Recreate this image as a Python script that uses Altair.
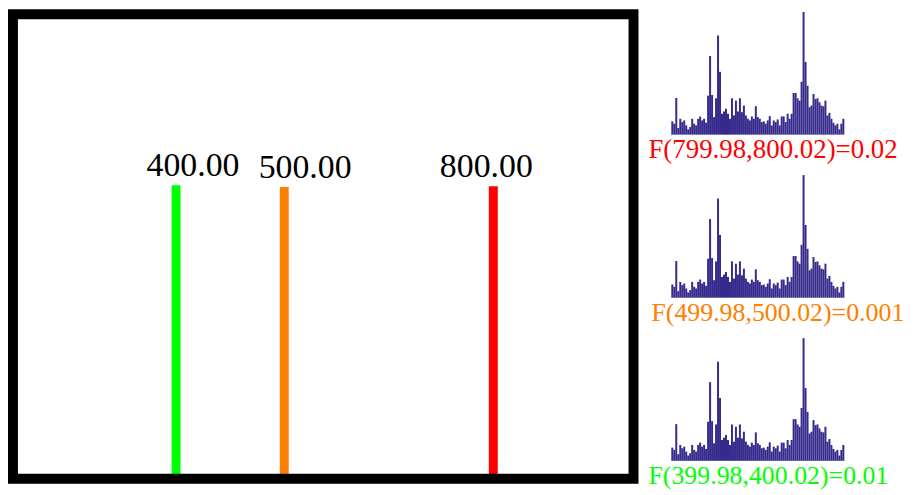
import altair as alt
import pandas as pd

# ---- data ----
peak_mz = [400.0, 500.0, 800.0]
peak_intensity = [0.632, 0.628, 0.630]
peak_labels = ["400.00", "500.00", "800.00"]
peak_colors = ["#00ff00", "#ff8000", "#ff0000"]

hist_counts = [40, 33, 111, 20, 48, 38, 43, 28, 16, 23, 48, 33, 28, 48, 55, 43, 48, 36,
               118, 238, 120, 53, 110, 300, 190, 63, 70, 78, 63, 48, 110, 58, 103, 70,
               110, 68, 88, 58, 48, 43, 55, 48, 86, 53, 48, 38, 40, 33, 43, 56, 28, 43,
               38, 46, 28, 55, 55, 38, 63, 48, 63, 126, 126, 110, 103, 160, 371, 220,
               148, 83, 88, 123, 108, 110, 98, 88, 86, 103, 58, 66, 48, 36, 28, 33, 16,
               33, 48]
hist_titles = ["F(799.98,800.02)=0.02", "F(499.98,500.02)=0.001", "F(399.98,400.02)=0.01"]
hist_title_colors = ["#ff0000", "#ff8000", "#00ff00"]

SERIF = "Liberation Serif"

# ---- main panel ----
peaks = pd.DataFrame({"mz": peak_mz, "intensity": peak_intensity,
                      "label": peak_labels, "color": peak_colors})
xs = alt.Scale(type="pow", exponent=-0.25, domain=[292.06, 1134.5], nice=False, zero=False)
ys = alt.Scale(domain=[0, 1], nice=False)

MAIN_W, MAIN_H = 624, 467

base = alt.Chart(peaks)
rules = base.mark_rule(strokeWidth=9).encode(
    x=alt.X("mz:Q", scale=xs, axis=None),
    y=alt.Y("intensity:Q", scale=ys, axis=None),
    y2=alt.datum(0),
    color=alt.Color("color:N", scale=None),
)

label_layers = []
for lab, dx in zip(peak_labels, [17, 21, -7]):
    label_layers.append(
        base.transform_filter(alt.datum.label == lab)
        .mark_text(font=SERIF, fontSize=34, baseline="alphabetic", align="center",
                   dy=-9, dx=dx, color="black")
        .encode(x=alt.X("mz:Q", scale=xs, axis=None),
                y=alt.Y("intensity:Q", scale=ys, axis=None),
                text="label:N")
    )

frame = alt.Chart(pd.DataFrame({"f": [0]})).mark_rect(
    fill="transparent", stroke="black", strokeWidth=10
).encode(x=alt.value(0), x2=alt.value(MAIN_W), y=alt.value(0), y2=alt.value(MAIN_H))

main = alt.layer(rules, *label_layers, frame).properties(width=MAIN_W, height=MAIN_H)

# ---- histograms ----
hist_df = pd.DataFrame({"i": list(range(len(hist_counts))), "count": hist_counts})


def hist(title, color, size, dx):
    return (
        alt.Chart(hist_df)
        .transform_calculate(i2="datum.i + 1")
        .mark_bar(color="#362a8c")
        .encode(
            x=alt.X("i:Q", scale=alt.Scale(domain=[0, len(hist_counts)], nice=False, zero=False), axis=None),
            x2="i2:Q",
            y=alt.Y("count:Q", scale=alt.Scale(domain=[0, 364], nice=False), axis=None),
            y2=alt.datum(0),
        )
        .properties(
            width=174, height=121,
            title=alt.TitleParams(text=title, orient="bottom", anchor="start", dx=dx,
                                  offset=23, baseline="alphabetic", font=SERIF,
                                  fontSize=size, fontWeight="normal", color=color),
        )
    )


hists = alt.vconcat(
    *[hist(t, c, s, d) for t, c, s, d in zip(hist_titles, hist_title_colors,
                                               [27, 26, 26], [-23, -20, -23])],
    spacing=12,
)

chart = (
    alt.hconcat(main, hists, spacing=10)
    .properties(padding=0)
    .configure_view(strokeWidth=0)
)

chart.save("out.html", embed_options={"renderer": "svg", "actions": False})
